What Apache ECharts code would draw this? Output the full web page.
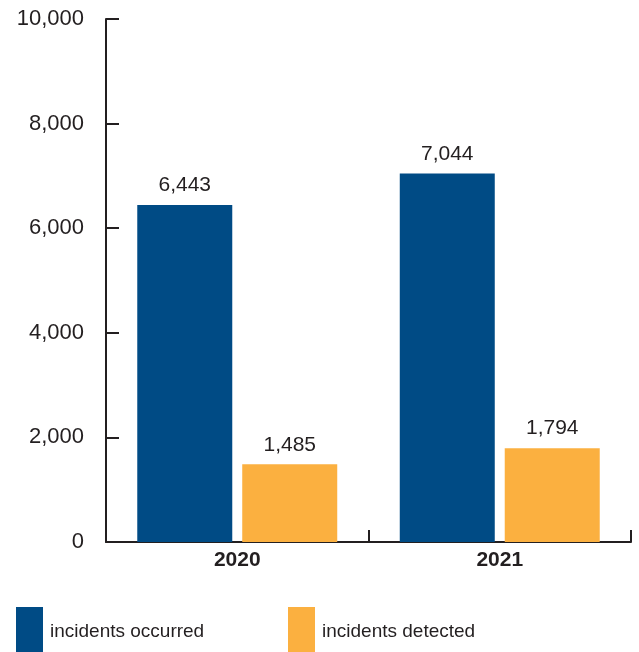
<!DOCTYPE html>
<html>
<head>
<meta charset="utf-8">
<script src="https://cdn.jsdelivr.net/npm/echarts@6/dist/echarts.min.js"></script>
<style>
  html, body { margin: 0; padding: 0; background: #ffffff; }
  #chart { width: 639px; height: 652px; }
</style>
</head>
<body>
<div id="chart"></div>
<script>
// Years on the category axis
var years = ['2020', '2021'];
// Series values
var occurred = [6443, 7044];
var detected = [1485, 1794];
// Series names
var seriesNames = ['incidents occurred', 'incidents detected'];

var ink = '#231f20';
var font = 'Liberation Sans, Arial, Helvetica, sans-serif';
var blue = '#004b85';
var orange = '#fbb040';

var chart = echarts.init(document.getElementById('chart'), null, { renderer: 'canvas' });

function valueLabel() {
  return {
    show: true,
    position: 'top',
    distance: 9,
    color: ink,
    fontFamily: font,
    fontSize: 21,
    formatter: function (p) { return p.value.toLocaleString('en-US'); }
  };
}

function legendFor(name, left) {
  return {
    data: [name],
    left: left,
    top: 602,
    padding: 5,
    itemWidth: 27,
    itemHeight: 50,
    itemGap: 0,
    selectedMode: false,
    icon: 'rect',
    textStyle: { color: ink, fontFamily: font, fontSize: 19, padding: [0, 0, 0, 2] }
  };
}

chart.setOption({
  animation: false,
  backgroundColor: '#ffffff',
  grid: { left: 106, right: 8, top: 19, bottom: 110, containLabel: false },
  legend: [legendFor(seriesNames[0], 11), legendFor(seriesNames[1], 283)],
  xAxis: {
    type: 'category',
    data: years,
    axisLine: { show: true, lineStyle: { color: ink, width: 2 } },
    axisTick: { show: true, inside: true, length: 12, lineStyle: { color: ink, width: 2 } },
    axisLabel: { color: ink, fontFamily: font, fontSize: 21, fontWeight: 'bold', margin: 8 }
  },
  yAxis: {
    type: 'value',
    min: 0,
    max: 10000,
    interval: 2000,
    axisLine: { show: true, lineStyle: { color: ink, width: 2 } },
    axisTick: { show: true, inside: true, length: 13, lineStyle: { color: ink, width: 2 } },
    splitLine: { show: false },
    axisLabel: {
      color: ink,
      fontFamily: font,
      fontSize: 22,
      margin: 22,
      formatter: function (v) { return v.toLocaleString('en-US'); }
    }
  },
  series: [
    {
      name: seriesNames[0],
      type: 'bar',
      data: occurred,
      barWidth: 95,
      barGap: '10.5%',
      itemStyle: { color: blue },
      label: valueLabel()
    },
    {
      name: seriesNames[1],
      type: 'bar',
      data: detected,
      barWidth: 95,
      barGap: '10.5%',
      itemStyle: { color: orange },
      label: valueLabel()
    }
  ]
});
</script>
</body>
</html>
